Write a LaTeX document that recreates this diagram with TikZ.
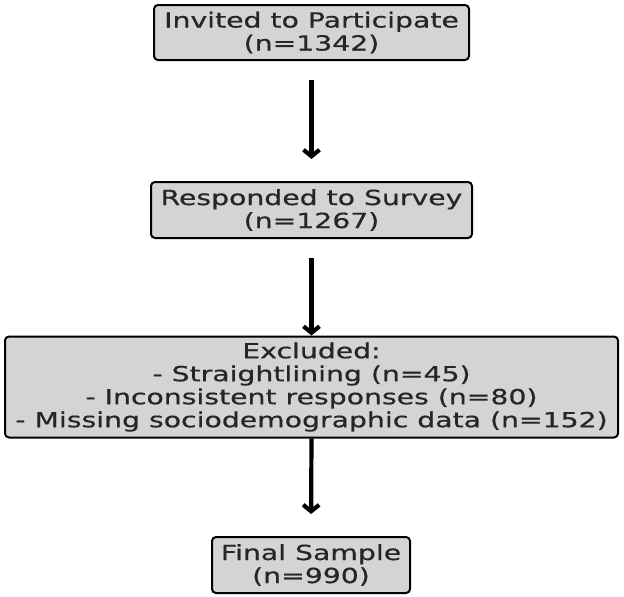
\documentclass[tikz,border=0pt]{standalone}
\usepackage{fontspec}
\setmainfont[FakeStretch=1.36,FakeBold=0.6]{DejaVu Sans}
\usetikzlibrary{arrows.meta}
\begin{document}
\begin{tikzpicture}[x=1pt,y=-1pt,
  box/.style={draw=black, line width=2pt, rounded corners=4pt, fill=black!17,
    inner sep=0pt, align=center, text=black!85,
    font=\fontsize{20.8}{23}\selectfont},
  flow/.style={line width=4.2pt, -{Straight Barb[length=6.5pt,width=16pt]}}]
\useasboundingbox (0,0) rectangle (624,597);
\node[box, minimum width=315pt, minimum height=55pt] (invited) at (311.5,32.5)
  {Invited to Participate\\(n=1342)};
\node[box, minimum width=321pt, minimum height=56pt] (resp) at (311.5,210)
  {Responded to Survey\\(n=1267)};
\node[box, minimum width=613pt, minimum height=101pt] (excl) at (311.5,387)
  {Excluded:\\- Straightlining (n=45)\\- Inconsistent responses (n=80)\\- Missing sociodemographic data (n=152)};
\node[box, minimum width=198pt, minimum height=56pt] (final) at (311,565)
  {Final Sample\\(n=990)};
\draw[flow, shorten <=19pt, shorten >=22pt] (invited.south) -- (resp.north);
\draw[flow, shorten <=19pt] (resp.south) -- (excl.north);
\draw[flow, shorten >=22pt] (excl.south) -- (final.north);
\end{tikzpicture}
\end{document}
